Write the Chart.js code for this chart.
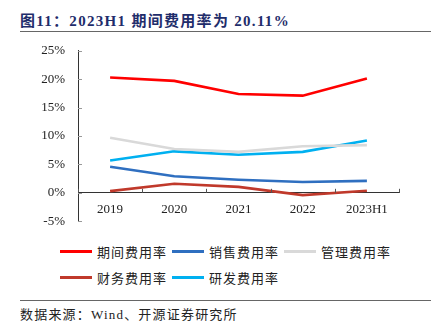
<!DOCTYPE html>
<html>
<head>
<meta charset="utf-8">
<script src="https://cdn.jsdelivr.net/npm/chart.js@4/dist/chart.umd.min.js"></script>
<style>
  html, body { margin: 0; padding: 0; background: #fff; }
  body { width: 443px; height: 334px; position: relative; overflow: hidden;
         font-family: "Liberation Serif", "Noto Sans CJK SC", serif; }
  #title { position: absolute; left: 20px; top: 9px; font-size: 15px; font-weight: bold;
           color: #1f2d6b; letter-spacing: 1.3px; white-space: nowrap; }
  .rule { position: absolute; left: 20px; width: 411px; height: 0; border-top: 1.5px solid #666; }
  #chartBox { position: absolute; left: 0; top: 30px; width: 443px; height: 212px; }
  #legend { position: absolute; left: 60px; top: 242px; width: 340px;
            display: grid; grid-template-columns: 112px 112px 112px; row-gap: 8px; }
  .item { display: flex; align-items: center; height: 18px; font-size: 13px; color: #222;
          letter-spacing: 1px; font-family: "Noto Sans CJK SC", sans-serif; white-space: nowrap; }
  .swatch { width: 32px; height: 3px; margin-right: 5px; }
  #source { position: absolute; left: 20px; top: 304px; font-size: 13px; color: #222;
            letter-spacing: 1.2px; white-space: nowrap; }
</style>
</head>
<body>
<div id="chartBox"><canvas id="chart"></canvas></div>
<div id="title">图11：2023H1 期间费用率为 20.11%</div>
<div class="rule" style="top:31px"></div>
<div id="legend"></div>
<div class="rule" style="top:300px"></div>
<div id="source">数据来源：Wind、开源证券研究所</div>
<script>
const years = ["2019", "2020", "2021", "2022", "2023H1"];
const seriesNames = ["期间费用率", "销售费用率", "管理费用率", "财务费用率", "研发费用率"];
const seriesColors = ["#ff0000", "#2f6fc0", "#d9d9d9", "#c0392b", "#00b0f0"];
const periodRate = [20.3, 19.7, 17.4, 17.1, 20.11];
const salesRate = [4.6, 2.9, 2.3, 1.9, 2.1];
const adminRate = [9.7, 7.7, 7.2, 8.2, 8.4];
const financeRate = [0.3, 1.6, 1.05, -0.4, 0.35];
const rdRate = [5.7, 7.3, 6.7, 7.2, 9.2];
const yTicks = [-5, 0, 5, 10, 15, 20, 25];

const seriesData = [periodRate, salesRate, adminRate, financeRate, rdRate];

// little inward tick marks like the original chart
const innerTicks = {
  id: "innerTicks",
  afterDraw(chart) {
    const { ctx, scales } = chart;
    const x = scales.x, y = scales.y;
    ctx.save();
    ctx.lineWidth = 1;
    ctx.strokeStyle = "#999";
    yTicks.forEach(v => {
      const py = Math.round(y.getPixelForValue(v)) + 0.5;
      ctx.beginPath();
      ctx.moveTo(y.right, py);
      ctx.lineTo(y.right + 4, py);
      ctx.stroke();
    });
    ctx.strokeStyle = "#555";
    const y0 = y.getPixelForValue(0);
    for (let i = 0; i <= years.length; i++) {
      const px = Math.round(x.left + (x.right - x.left) * i / years.length) + 0.5;
      ctx.beginPath();
      ctx.moveTo(px, y0);
      ctx.lineTo(px, y0 - 4);
      ctx.stroke();
    }
    ctx.restore();
  }
};

const legendEl = document.getElementById("legend");
seriesNames.forEach((name, i) => {
  const item = document.createElement("div");
  item.className = "item";
  item.innerHTML = `<span class="swatch" style="background:${seriesColors[i]}"></span>${name}`;
  legendEl.appendChild(item);
});

new Chart(document.getElementById("chart"), {
  type: "line",
  data: {
    labels: years,
    datasets: seriesNames.map((name, i) => ({
      label: name,
      data: seriesData[i],
      borderColor: seriesColors[i],
      backgroundColor: seriesColors[i],
      borderWidth: 2.6,
      pointRadius: 0,
      tension: 0
    }))
  },
  options: {
    responsive: true,
    maintainAspectRatio: false,
    animation: false,
    layout: { padding: { top: 10, bottom: 9, left: 0, right: 44 } },
    plugins: { legend: { display: false }, tooltip: { enabled: false } },
    scales: {
      x: {
        position: { y: 0 },
        offset: true,
        grid: { display: false, drawTicks: false },
        border: { display: true, color: "#333", width: 1 },
        ticks: {
          color: "#222", padding: 9, maxRotation: 0,
          font: { family: "Liberation Serif", size: 13 }
        }
      },
      y: {
        min: -5,
        max: 25,
        afterFit(scale) { scale.width = 78; },
        afterBuildTicks(scale) { scale.ticks = yTicks.map(v => ({ value: v })); },
        grid: { drawOnChartArea: false, drawTicks: false },
        border: { display: true, color: "#333", width: 1 },
        ticks: {
          color: "#222", padding: 13,
          font: { family: "Liberation Serif", size: 13 },
          callback: v => v + "%"
        }
      }
    }
  },
  plugins: [innerTicks]
});
</script>
</body>
</html>
